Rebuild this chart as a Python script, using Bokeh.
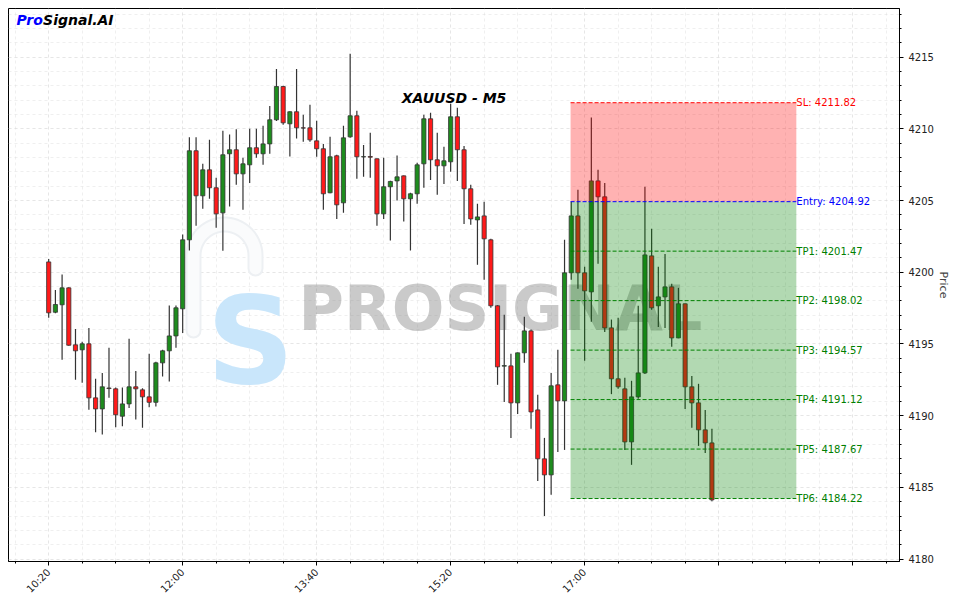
import math
import numpy as np
from bokeh.plotting import figure
from bokeh.models import FixedTicker, Range1d, ColumnDataSource
from bokeh.embed import file_html
from bokeh.resources import INLINE
from bokeh.core.properties import value

# ---------------- data ----------------
symbol_title = "XAUUSD - M5"
start_time = "10:20"
bar_minutes = 5

opens = [4200.72, 4197.21, 4197.73, 4198.91, 4194.94, 4194.59, 4195.01, 4191.24, 4190.47, 4191.93,
         4191.87, 4189.96, 4190.82, 4192.01, 4191.80, 4191.31, 4190.93, 4193.68, 4194.52, 4195.56,
         4197.45, 4202.26, 4208.47, 4205.33, 4207.14, 4205.89, 4204.14, 4208.26, 4208.54, 4206.86,
         4207.49, 4208.68, 4208.26, 4208.95, 4210.63, 4212.95, 4210.35, 4211.19, 4210.07, 4210.07,
         4209.16, 4208.61, 4205.54, 4208.12, 4204.84, 4209.44, 4210.91, 4208.04, 4208.07, 4207.91,
         4204.07, 4205.96, 4206.37, 4206.72, 4205.12, 4205.47, 4207.56, 4210.70, 4207.84, 4207.42,
         4207.70, 4210.84, 4208.54, 4205.82, 4203.65, 4203.93, 4202.26, 4197.66, 4193.45, 4193.47,
         4190.89, 4194.38, 4195.91, 4190.40, 4186.99, 4185.87, 4192.15, 4191.03, 4199.96, 4203.93,
         4199.96, 4198.63, 4206.37, 4205.26, 4196.12, 4192.57, 4191.87, 4188.17, 4191.31, 4192.98,
         4201.14, 4197.66, 4198.28, 4198.98, 4195.42, 4197.80, 4192.01, 4190.89, 4189.01, 4188.10]
highs = [4200.93, 4198.77, 4199.84, 4198.95, 4196.05, 4195.15, 4196.12, 4192.57, 4192.98, 4194.73,
         4191.96, 4191.96, 4195.36, 4193.12, 4191.91, 4194.31, 4193.75, 4194.59, 4197.68, 4197.68,
         4202.63, 4209.41, 4209.41, 4207.56, 4209.23, 4206.58, 4209.86, 4209.60, 4209.97, 4207.98,
         4210.00, 4210.00, 4210.21, 4211.60, 4214.18, 4213.00, 4211.22, 4214.18, 4210.98, 4211.67,
         4210.56, 4208.95, 4209.44, 4208.19, 4210.21, 4215.23, 4211.26, 4208.88, 4209.72, 4207.93,
         4207.98, 4206.38, 4208.14, 4206.75, 4205.54, 4207.63, 4210.98, 4211.12, 4209.72, 4208.75,
         4211.74, 4211.47, 4208.81, 4206.10, 4204.77, 4204.91, 4202.33, 4197.70, 4197.03, 4194.31,
         4194.40, 4196.89, 4196.00, 4191.45, 4188.45, 4192.98, 4194.59, 4202.26, 4204.91, 4205.75,
         4200.38, 4210.79, 4207.14, 4206.23, 4196.70, 4196.82, 4192.64, 4192.43, 4197.66, 4205.96,
         4203.03, 4200.38, 4201.28, 4199.19, 4198.91, 4197.82, 4192.77, 4192.22, 4190.40, 4189.08]
lows = [4196.82, 4197.14, 4193.89, 4194.88, 4192.50, 4192.29, 4190.42, 4188.84, 4188.68, 4191.24,
        4189.19, 4189.26, 4190.54, 4189.73, 4189.15, 4190.59, 4190.63, 4192.73, 4192.38, 4194.73,
        4195.77, 4201.51, 4203.24, 4204.42, 4205.12, 4203.10, 4201.49, 4204.58, 4206.10, 4204.35,
        4206.23, 4207.98, 4207.49, 4208.26, 4210.55, 4210.28, 4208.07, 4209.32, 4209.09, 4209.09,
        4208.05, 4204.35, 4205.50, 4203.72, 4204.14, 4209.37, 4206.51, 4206.65, 4206.58, 4203.24,
        4203.72, 4202.21, 4205.00, 4203.54, 4201.51, 4204.77, 4205.89, 4206.44, 4205.40, 4206.16,
        4207.00, 4206.37, 4203.37, 4203.31, 4200.52, 4199.47, 4197.52, 4192.15, 4190.96, 4188.45,
        4190.12, 4193.68, 4189.08, 4185.45, 4183.01, 4184.48, 4187.47, 4187.61, 4199.47, 4198.84,
        4193.82, 4196.54, 4200.59, 4195.84, 4191.50, 4191.87, 4187.61, 4186.57, 4191.17, 4192.91,
        4197.38, 4196.19, 4196.12, 4194.80, 4195.40, 4190.47, 4189.15, 4187.89, 4187.40, 4184.03]
closes = [4197.17, 4197.75, 4198.91, 4194.91, 4194.52, 4195.01, 4191.24, 4190.47, 4192.01, 4191.89,
          4190.06, 4190.82, 4192.01, 4191.87, 4191.31, 4190.93, 4193.68, 4194.52, 4195.56, 4197.52,
          4202.26, 4208.47, 4205.33, 4207.14, 4205.89, 4204.07, 4208.19, 4208.54, 4206.86, 4207.56,
          4208.68, 4208.26, 4208.95, 4210.63, 4212.95, 4210.42, 4211.19, 4210.07, 4210.05, 4209.23,
          4208.61, 4205.47, 4208.05, 4204.70, 4209.37, 4210.91, 4208.05, 4208.06, 4208.02, 4204.07,
          4205.96, 4206.33, 4206.65, 4205.12, 4205.47, 4207.49, 4210.70, 4207.84, 4207.42, 4207.77,
          4210.84, 4208.54, 4205.82, 4203.72, 4203.86, 4202.33, 4197.66, 4193.40, 4193.49, 4190.89,
          4194.38, 4195.91, 4190.26, 4186.99, 4185.87, 4192.08, 4191.03, 4199.96, 4203.93, 4199.96,
          4198.70, 4206.37, 4205.26, 4196.12, 4192.57, 4192.01, 4188.17, 4191.31, 4192.98, 4201.21,
          4197.52, 4198.28, 4198.98, 4195.42, 4197.80, 4192.01, 4190.89, 4189.01, 4188.10, 4184.13]

x_ticks = [0, 20, 40, 60, 80, 100, 120]
x_tick_labels = ["10:20", "12:00", "13:40", "15:20", "17:00", "", ""]
y_ticks = [4180, 4185, 4190, 4195, 4200, 4205, 4210, 4215]

signal_start_bar = 77.9
signal_end_bar = 111.6
level_names = ["SL", "Entry", "TP1", "TP2", "TP3", "TP4", "TP5", "TP6"]
level_values = [4211.82, 4204.92, 4201.47, 4198.02, 4194.57, 4191.12, 4187.67, 4184.22]
level_colors = ["red", "blue", "green", "green", "green", "green", "green", "green"]

# ---------------- figure ----------------
FONT = "DejaVu Sans"
x0, x1 = -6.0, 127.0
y0, y1 = 4179.83, 4218.39
FW, FH = 891, 553
OX, OY = 8, 8  # frame offset inside the canvas

p = figure(frame_width=FW, frame_height=FH, x_range=Range1d(x0, x1), y_range=Range1d(y0, y1),
           y_axis_location="right", output_backend="svg", toolbar_location=None,
           min_border_left=OX, min_border_top=OY, min_border_right=10, min_border_bottom=10)
p.background_fill_color = "white"
p.border_fill_color = "white"
p.outline_line_color = "black"
p.outline_line_width = 1


def px2x(px):
    return x0 + (px - OX) / FW * (x1 - x0)


def py2y(py):
    return y1 - (py - OY) / FH * (y1 - y0)


# grid + axes
p.xaxis.ticker = FixedTicker(ticks=x_ticks, minor_ticks=list(range(-5, 130, 5)))
p.yaxis.ticker = FixedTicker(ticks=y_ticks, minor_ticks=list(range(4179, 4219)))
p.xaxis.major_label_overrides = {t: l for t, l in zip(x_ticks, x_tick_labels)}
p.xaxis.major_label_orientation = math.pi / 4
for ax in (p.xaxis[0], p.yaxis[0]):
    ax.axis_line_color = "black"
    ax.major_tick_line_color = "black"
    ax.minor_tick_line_color = "black"
    ax.major_tick_out = 4
    ax.major_tick_in = 0
    ax.minor_tick_out = 2
    ax.minor_tick_in = 0
    ax.major_label_text_font = FONT
    ax.major_label_text_font_size = "10px"
    ax.major_label_text_color = "#222222"
p.yaxis.axis_label = "Price"
p.yaxis.axis_label_text_font = FONT
p.yaxis.axis_label_text_font_size = "11px"
p.yaxis.axis_label_text_font_style = "normal"
p.yaxis.axis_label_standoff = 0

for g in (p.xgrid[0], p.ygrid[0]):
    g.grid_line_color = "#dcdcdc"
    g.grid_line_alpha = 0.45
    g.grid_line_dash = "3 3"
    g.minor_grid_line_color = "#dcdcdc"
    g.minor_grid_line_alpha = 0.45
    g.minor_grid_line_dash = "3 3"

# ---------------- watermark ----------------
t = np.linspace(math.pi, 0, 30)
hook_px = [(193, 330), (193, 255)] + [(224 + 31 * math.cos(a), 255 - 31 * math.sin(a)) for a in t] + [(255, 268)]
hx = [px2x(a) for a, b in hook_px]
hy = [py2y(b) for a, b in hook_px]
p.line(hx, hy, line_color="#edf0f3", line_width=16, line_cap="round", line_join="round")
p.line(hx, hy, line_color="#fafbfc", line_width=12, line_cap="round", line_join="round")
p.text(x=[px2x(250)], y=[py2y(340)], text=["S"], text_font=value(FONT), text_font_style="bold",
       text_font_size="122px", text_color="#c9e6fb", text_align="center", text_baseline="alphabetic")
p.text(x=[px2x(298)], y=[py2y(308)], text=["PROSIGNAL"], text_font=value(FONT), text_font_style="bold",
       text_font_size="62px", text_color="#808080", text_alpha=0.42, text_align="left",
       text_baseline="alphabetic")

# ---------------- candles ----------------
idx = list(range(len(opens)))
body_top = [max(o, c) for o, c in zip(opens, closes)]
body_bot = [min(o, c) for o, c in zip(opens, closes)]
fill = ["#1e8c1e" if c >= o else "#ff1a1a" for o, c in zip(opens, closes)]
src = ColumnDataSource(dict(x=idx, high=highs, low=lows, top=body_top, bottom=body_bot, fill=fill))
p.segment(x0="x", y0="high", x1="x", y1="low", source=src, line_color="#333333", line_width=1.2)
p.vbar(x="x", width=0.62, top="top", bottom="bottom", fill_color="fill", line_color="#333333",
       line_width=0.8, source=src)

# ---------------- signal zones ----------------
p.quad(left=[signal_start_bar], right=[signal_end_bar], bottom=[level_values[1]], top=[level_values[0]],
       fill_color="red", fill_alpha=0.3, line_color=None)
p.quad(left=[signal_start_bar], right=[signal_end_bar], bottom=[level_values[-1]], top=[level_values[1]],
       fill_color="green", fill_alpha=0.3, line_color=None)
lsrc = ColumnDataSource(dict(
    x0=[signal_start_bar] * len(level_values), x1=[signal_end_bar] * len(level_values),
    y=level_values, color=level_colors,
    label=[f"{n}: {v:.2f}" for n, v in zip(level_names, level_values)]))
p.segment(x0="x0", y0="y", x1="x1", y1="y", line_color="color", line_dash="4 2", line_width=1, source=lsrc)
p.text(x="x1", y="y", text="label", text_color="color", text_font=value(FONT), text_font_size="10px",
       text_align="left", text_baseline="middle", source=lsrc)

# ---------------- titles ----------------
p.text(x=[px2x(453.5)], y=[py2y(97)], text=[symbol_title], text_font=value(FONT),
       text_font_style="bold italic", text_font_size="14px", text_color="black",
       text_align="center", text_baseline="middle")
p.text(x=[px2x(16)], y=[py2y(19)], text=["Pro"], text_font=value(FONT), text_font_style="bold italic",
       text_font_size="14px", text_color="blue", text_align="left", text_baseline="middle")
p.text(x=[px2x(42.6)], y=[py2y(19)], text=["Signal.AI"], text_font=value(FONT),
       text_font_style="bold italic", text_font_size="14px", text_color="black", text_align="left",
       text_baseline="middle")

open("out.html", "w").write(file_html(p, INLINE))
